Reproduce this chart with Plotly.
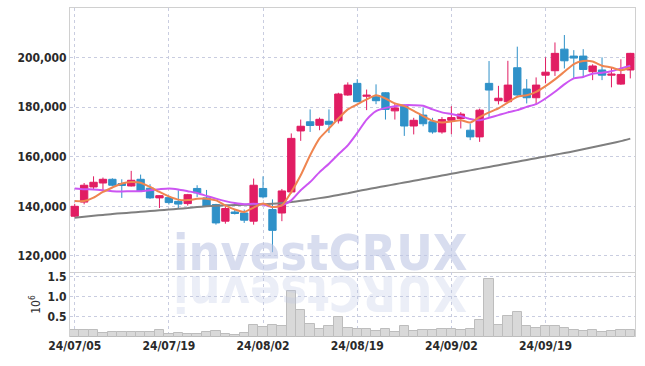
import plotly.graph_objects as go

dates = ["24/07/05","24/07/08","24/07/09","24/07/10","24/07/11","24/07/12","24/07/15","24/07/16","24/07/17","24/07/18",
         "24/07/19","24/07/22","24/07/23","24/07/24","24/07/25","24/07/26","24/07/29","24/07/30","24/07/31","24/08/01",
         "24/08/02","24/08/05","24/08/06","24/08/07","24/08/08","24/08/09","24/08/12","24/08/13","24/08/14","24/08/16",
         "24/08/19","24/08/20","24/08/21","24/08/22","24/08/23","24/08/26","24/08/27","24/08/28","24/08/29","24/08/30",
         "24/09/02","24/09/03","24/09/04","24/09/05","24/09/06","24/09/09","24/09/10","24/09/11","24/09/12","24/09/13",
         "24/09/19","24/09/20","24/09/23","24/09/24","24/09/25","24/09/26","24/09/27","24/09/30","24/10/02","24/10/04"]

open_ = [136000,141700,147800,149400,150900,149200,148200,150900,147300,143400,
         143500,142000,141100,147200,143400,140700,134000,137700,137300,134000,
         147200,138700,137300,145800,170400,174100,172700,174300,174500,184900,
         189600,184400,184200,185800,178500,180800,172400,176800,174100,170000,
         174700,175400,170700,168000,189600,182600,182200,195900,187300,183800,
         192900,194700,203400,200600,200600,194300,195000,192900,189300,195000]
high = [141000,149400,152100,151600,151300,150900,154300,152800,148900,144400,
        144000,146500,145000,148500,146600,141000,140000,138700,138700,151200,
        152100,142800,147000,169400,175000,179100,175800,179100,185800,190000,
        191300,187100,189200,186000,181500,181000,175700,179900,175700,176000,
        180400,178000,173400,179400,198600,188600,198700,204400,191300,192000,
        200100,206100,209100,203000,203400,197300,200100,195900,199300,201900]
low = [135500,140800,146800,146500,148000,143400,148000,145800,143000,139300,
       140700,139300,140300,143700,139800,132600,133000,136700,133300,132600,
       143200,121500,134000,145200,166400,170000,170700,169600,173400,184600,
       182000,178800,181200,175000,175000,168400,169000,172300,169300,169300,
       169100,171400,166700,166000,176100,181100,181900,184600,181500,181100,
       189600,192600,195600,191600,192200,190900,190900,188000,189000,191600]
close = [140000,148500,149700,150900,148500,148400,150500,146100,143400,144300,
         141500,140900,144700,145400,140100,133300,139100,137100,134400,148500,
         143800,130300,146200,167400,172300,172600,175100,173100,185300,188900,
         182200,184800,182600,179100,179700,172400,174700,173300,170000,175000,
         175800,177200,168000,178800,186900,183600,188900,184900,183800,188900,
         194100,201700,198700,199800,195200,196600,192900,193300,193200,201700]

volume = [175000,175000,175000,100000,127000,127000,127000,127000,127000,167000,
          80000,95000,71000,71000,120000,143000,80000,48000,95000,310000,
          254000,310000,270000,1140000,667000,333000,198000,270000,500000,214000,
          190000,190000,143000,190000,120000,262000,159000,167000,167000,190000,
          190000,180000,190000,430000,1450000,310000,520000,620000,270000,220000,
          270000,286000,214000,175000,150000,175000,120000,159000,167000,167000]

ma5 = [142100,142100,143500,145800,147600,149200,149800,149500,147800,145800,
       144000,142700,142500,143000,143100,142400,140400,138700,137700,139500,
       141100,139700,140400,145800,152500,160600,167400,171400,175400,179100,
       181100,183100,184800,183500,181500,180400,178500,176400,174500,173800,
       174200,174700,173800,176000,177900,179500,181900,184200,184800,186200,
       188500,191200,194300,197400,198600,198400,196700,196000,194900,195900]
ma20 = [147200,146900,146800,146500,146100,146000,146100,146100,146500,146900,
        147200,146800,146100,145400,144200,143100,142100,141300,140800,141000,
        140700,139700,140400,142400,146500,149800,153800,157200,161000,164600,
        169600,175000,178400,179700,180400,180800,180800,180600,179100,177900,
        177200,176400,175200,174700,175700,176800,177900,178800,180100,181200,
        183500,186200,189200,191600,192200,193500,193900,194500,195600,196700]
ma60 = [135400,135800,136200,136500,136900,137200,137500,137800,138100,138400,
        138700,139000,139300,139700,140000,140200,140400,140500,140600,140700,
        140800,141000,141300,141700,142200,142700,143300,143900,144600,145300,
        146100,146800,147500,148200,148900,149600,150300,151000,151700,152400,
        153100,153800,154500,155200,155900,156600,157300,158000,158700,159400,
        160100,160800,161500,162200,163000,163800,164600,165400,166300,167300]

y_ticks = [120000, 140000, 160000, 180000, 200000]
vol_ticks = [500000, 1000000, 1500000]
vol_ticktext = ["0.5", "1.0", "1.5"]
x_tick_idx = [0, 10, 20, 30, 40, 50]

UP = "#e11d63"
DOWN = "#2f91c8"
FONT = "DejaVu Sans Condensed"
GRID = "#c9cde0"

fig = go.Figure()
fig.add_trace(go.Candlestick(
    x=dates, open=open_, high=high, low=low, close=close,
    increasing=dict(line=dict(color=UP, width=1), fillcolor=UP),
    decreasing=dict(line=dict(color=DOWN, width=1), fillcolor=DOWN),
    whiskerwidth=0, xaxis="x", yaxis="y", showlegend=False))
fig.add_trace(go.Scatter(x=dates, y=ma60, mode="lines", line=dict(color="#7f7f7f", width=2, shape="spline", smoothing=0.6),
                         xaxis="x", yaxis="y", showlegend=False))
fig.add_trace(go.Scatter(x=dates, y=ma20, mode="lines", line=dict(color="#cc55f2", width=2, shape="spline", smoothing=0.6),
                         xaxis="x", yaxis="y", showlegend=False))
fig.add_trace(go.Scatter(x=dates, y=ma5, mode="lines", line=dict(color="#ef8550", width=2, shape="spline", smoothing=0.6),
                         xaxis="x", yaxis="y", showlegend=False))
fig.add_trace(go.Bar(x=dates, y=volume, marker=dict(color="#d9d9d9", line=dict(color="#bdbdbd", width=1)),
                     xaxis="x2", yaxis="y2", showlegend=False))

split = 65 / 329
tick_font = dict(family=FONT, size=12, color="#2a2a2a", weight="bold")

fig.update_layout(
    width=645, height=366,
    margin=dict(l=70, r=10, t=8, b=29),
    paper_bgcolor="white", plot_bgcolor="white",
    bargap=0, boxgap=0.22, boxgroupgap=0,
    xaxis=dict(type="category", domain=[0, 1], anchor="y", range=[-0.5, 59.5], automargin=False,
               rangeslider=dict(visible=False), showticklabels=False,
               tickmode="array", tickvals=[dates[i] for i in x_tick_idx],
               showgrid=True, gridcolor=GRID, griddash="dot", gridwidth=1,
               showline=True, linecolor="#d0d0d0", mirror=True, ticks="", zeroline=False),
    yaxis=dict(domain=[split, 1], anchor="x", range=[113500, 220000], automargin=False,
               tickmode="array", tickvals=y_ticks, tickformat=",d",
               showgrid=True, gridcolor=GRID, griddash="dot", gridwidth=1,
               showline=True, linecolor="#d0d0d0", mirror=True, ticks="", zeroline=False,
               tickfont=tick_font),
    xaxis2=dict(type="category", domain=[0, 1], anchor="y2", range=[-0.5, 59.5], matches="x", automargin=False,
                tickmode="array", tickvals=[dates[i] for i in x_tick_idx],
                ticktext=[dates[i] for i in x_tick_idx],
                showgrid=True, gridcolor=GRID, griddash="dot", gridwidth=1,
                showline=False, ticks="", zeroline=False, tickfont=tick_font),
    yaxis2=dict(domain=[0, split], anchor="x2", range=[0, 1620000], automargin=False,
                tickmode="array", tickvals=vol_ticks, ticktext=vol_ticktext,
                showgrid=True, gridcolor=GRID, griddash="dot", gridwidth=1,
                showline=True, linecolor="#d0d0d0", mirror=True, ticks="", zeroline=False,
                tickfont=tick_font,
                title=dict(text="10<sup>6</sup>", font=dict(family=FONT, size=12, color="#333333"), standoff=4)),
)

fig.add_annotation(text="investCRUX", xref="paper", yref="paper", x=0.443, y=split - 0.035,
                   xanchor="center", yanchor="bottom", showarrow=False,
                   font=dict(family=FONT, size=50, color="rgba(190,198,228,0.6)", weight="bold"))
fig.add_annotation(text="XURCtsevni", xref="paper", yref="paper", x=0.443, y=split + 0.03,
                   xanchor="center", yanchor="top", showarrow=False, textangle=180,
                   font=dict(family=FONT, size=50, color="rgba(190,198,228,0.3)", weight="bold"))

fig.write_html("out.html", config={"displayModeBar": False},
               post_script="document.body.style.margin='0';")
